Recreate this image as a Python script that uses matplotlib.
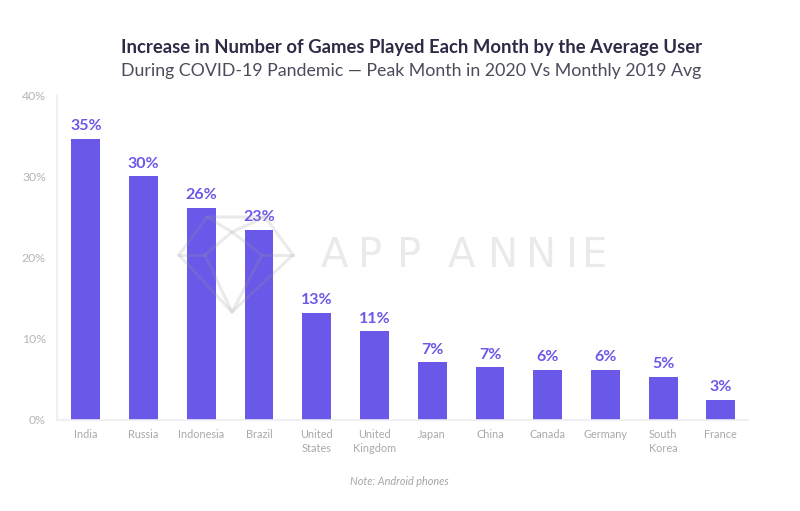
import matplotlib
matplotlib.use('Agg')
import matplotlib.pyplot as plt
from matplotlib.lines import Line2D

countries = ['India', 'Russia', 'Indonesia', 'Brazil', 'United\nStates', 'United\nKingdom',
             'Japan', 'China', 'Canada', 'Germany', 'South\nKorea', 'France']
increase = [34.6, 30.0, 26.1, 23.4, 13.2, 10.9, 7.1, 6.5, 6.2, 6.2, 5.3, 2.5]
labels = ['35%', '30%', '26%', '23%', '13%', '11%', '7%', '7%', '6%', '6%', '5%', '3%']
yticks = [0, 10, 20, 30, 40]

purple = '#6a58e8'
W, H = 800, 511

plt.rcParams['font.family'] = ['Lato', 'DejaVu Sans']

fig = plt.figure(figsize=(W / 100, H / 100), dpi=100)
ax = fig.add_axes([57 / W, 1 - 420 / H, (748 - 57) / W, (420 - 95) / H])

x = list(range(len(countries)))
ax.bar(x, increase, width=0.5, color=purple, zorder=2)
for xi, v, lab in zip(x, increase, labels):
    ax.annotate(lab, (xi, v), xytext=(0, 4), textcoords='offset points', ha='center', va='bottom',
                color=purple, fontsize=11.5, fontweight='bold')

ax.set_ylim(0, 40)
ax.set_xlim(-0.5, 11.47)
ax.set_yticks(yticks)
ax.set_yticklabels([f'{t}%' for t in yticks], color='#b5b5b8', fontsize=8.8)
ax.set_xticks(x)
ax.set_xticklabels(countries, color='#a9a9ad', fontsize=7.8, linespacing=1.3)
ax.tick_params(axis='both', length=0)
ax.tick_params(axis='x', pad=6.5)
ax.tick_params(axis='y', pad=8)
for side in ['top', 'right']:
    ax.spines[side].set_visible(False)
for side in ['left', 'bottom']:
    ax.spines[side].set_color('#eeeef2')
    ax.spines[side].set_linewidth(1.2)

# titles
fig.text(411.5 / W, 1 - 48 / H, 'Increase in Number of Games Played Each Month by the Average User',
         ha='center', va='center', fontsize=13.3, fontweight='bold', color='#2f2a45')
fig.text(411.5 / W, 1 - 71 / H, 'During COVID-19 Pandemic — Peak Month in 2020 Vs Monthly 2019 Avg',
         ha='center', va='center', fontsize=12.8, color='#4d4a5c')
fig.text(399 / W, 1 - 481 / H, 'Note: Android phones', ha='center', va='center',
         fontsize=7.8, style='italic', color='#a5a5aa')

# App Annie watermark, on top of the bars; letters spaced out one at a time
wm = '#9a9aa0'
for ch, px in zip('APPANNIE', [321, 358, 397, 448, 488, 526, 566, 582]):
    fig.text(px / W, 1 - 256 / H, ch, ha='left', va='center', fontsize=29,
             family='DejaVu Sans', color=wm, alpha=0.2, zorder=5)
outline = [(179, 255), (207, 217), (265, 217), (293, 255), (232, 312), (179, 255)]
facets = [[(205, 255), (232, 312), (262, 255), (232, 232), (205, 255)],
          [(207, 217), (232, 232), (265, 217)],
          [(179, 255), (205, 255)], [(262, 255), (293, 255)]]
for seg in [outline] + facets:
    fig.add_artist(Line2D([p[0] / W for p in seg], [1 - p[1] / H for p in seg], color=wm,
                          alpha=0.2, lw=2.2, zorder=5))

fig.savefig('out.png', dpi=100)
